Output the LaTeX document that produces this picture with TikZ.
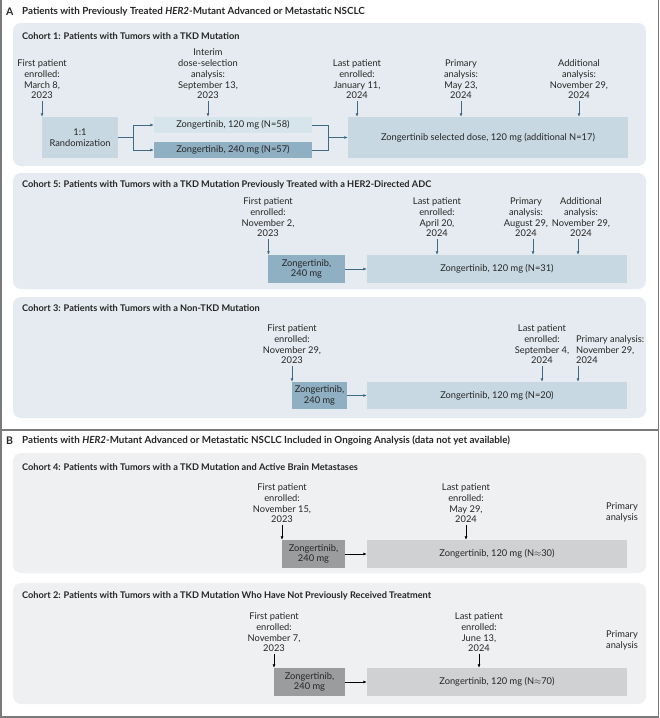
\documentclass[tikz,border=0pt]{standalone}
\usepackage{fontspec}
\setmainfont{Lato}
\usetikzlibrary{arrows.meta}
\definecolor{txt}{HTML}{262626}
\definecolor{frameg}{HTML}{7A7A7A}
\definecolor{cohA}{HTML}{E5EBF0}
\definecolor{boxmid}{HTML}{C8D8E2}
\definecolor{boxlight}{HTML}{D6E4EC}
\definecolor{boxdark}{HTML}{8FAFC2}
\definecolor{arrA}{HTML}{3F6A85}
\definecolor{cohB}{HTML}{EEF0F1}
\definecolor{boxBdark}{HTML}{9B9C9E}
\definecolor{boxBlight}{HTML}{D0D1D3}
\tikzset{
  every node/.style={text=txt},
  cohort/.style={rounded corners=8pt, draw=none},
  ttl/.style={anchor=west, inner sep=0pt, font=\fontsize{9.2}{11}\selectfont\bfseries},
  hdr/.style={anchor=west, inner sep=0pt, font=\fontsize{9.8}{11}\selectfont\bfseries},
  lbl/.style={align=center, inner sep=0pt, anchor=south, font=\fontsize{9.3}{10.7}\selectfont},
  bx/.style={inner sep=0pt, align=center, font=\fontsize{9.3}{10.7}\selectfont},
  arra/.style={-{Latex[length=3.5pt,width=3pt]}, line width=0.7pt, draw=arrA, shorten <=2pt},
  arrb/.style={-{Latex[length=3.5pt,width=3pt]}, line width=0.7pt, draw=black, shorten <=2pt},
  lina/.style={line width=0.7pt, draw=arrA},
}
\begin{document}
\begin{tikzpicture}[x=1pt,y=-1pt]
\useasboundingbox (0,0) rectangle (660,718);
% frame
\draw[frameg, line width=1.2pt] (1,0) -- (1,717) -- (658.5,717) -- (658.5,0);
\draw[frameg, line width=1.2pt] (1,430) -- (658.5,430);

% ===== Panel A =====
\node[anchor=west, inner sep=0pt, font=\fontsize{10.5}{12}\selectfont\bfseries] (hA) at (6,12) {A};
\node[hdr] (hAt) at (22,12) {Patients with Previously Treated \textit{HER2}-Mutant Advanced or Metastatic NSCLC};

% Cohort 1
\fill[cohA, cohort] (13,23) rectangle (646,166);
\node[ttl] (t1) at (22,36) {Cohort 1: Patients with Tumors with a TKD Mutation};
\node[bx, fill=boxmid, minimum width=76pt, minimum height=41pt] (rand) at (80,137.5) {1:1\\Randomization};
\node[bx, fill=boxlight, minimum width=158pt, minimum height=16pt] (z120) at (233,125) {Zongertinib, 120 mg (N=58)};
\node[bx, fill=boxdark, minimum width=158pt, minimum height=16pt] (z240) at (233,150) {Zongertinib, 240 mg (N=57)};
\node[bx, fill=boxmid, minimum width=280pt, minimum height=41pt] (sel) at (488,137.5) {Zongertinib selected dose, 120 mg (additional N=17)};
\coordinate (sp1) at (133,137.5);
\coordinate (mg1) at (328,137.5);
\draw[lina] (rand.east) -- (sp1);
\draw[arra, shorten <=0pt] (sp1) |- (z120.west);
\draw[arra, shorten <=0pt] (sp1) |- (z240.west);
\draw[lina] (z120.east) -| (mg1);
\draw[lina] (z240.east) -| (mg1);
\draw[arra, shorten <=0pt] (mg1) -- (sel.west);
\node[lbl] (fp1) at (42,99) {First patient\\enrolled:\\March 8,\\2023};
\node[lbl] (int1) at (208,99) {Interim\\dose-selection\\analysis:\\September 13,\\2023};
\node[lbl] (lp1) at (357,99) {Last patient\\enrolled:\\January 11,\\2024};
\node[lbl] (pa1) at (461,99) {Primary\\analysis:\\May 23,\\2024};
\node[lbl] (aa1) at (579,99) {Additional\\analysis:\\November 29,\\2024};
\draw[arra] (fp1.south) -- (fp1.south |- rand.north);
\draw[arra] (int1.south) -- (int1.south |- z120.north);
\draw[arra] (lp1.south) -- (lp1.south |- sel.north);
\draw[arra] (pa1.south) -- (pa1.south |- sel.north);
\draw[arra] (aa1.south) -- (aa1.south |- sel.north);

% Cohort 5
\fill[cohA, cohort] (13,173) rectangle (646,289);
\node[ttl] (t5) at (22,185) {Cohort 5: Patients with Tumors with a TKD Mutation Previously Treated with a HER2-Directed ADC};
\node[bx, fill=boxdark, minimum width=77pt, minimum height=28pt] (a240) at (306.5,269) {Zongertinib,\\240 mg};
\node[bx, fill=boxmid, minimum width=260pt, minimum height=28pt] (a120) at (497,269) {Zongertinib, 120 mg (N=31)};
\draw[arra, shorten <=0pt] (a240.east) -- (a120.west);
\node[lbl] (fp5) at (268,237) {First patient\\enrolled:\\November 2,\\2023};
\node[lbl] (lp5) at (437,237) {Last patient\\enrolled:\\April 20,\\2024};
\node[lbl] (pa5) at (526,237) {Primary\\analysis:\\August 29,\\2024};
\node[lbl] (aa5) at (581,237) {Additional\\analysis:\\November 29,\\2024};
\draw[arra] ([xshift=0.5pt]fp5.south) -- ([xshift=0.5pt]fp5.south |- a240.north);
\draw[arra] (lp5.south) -- (lp5.south |- a120.north);
\draw[arra] ([xshift=7pt]pa5.south) -- ([xshift=7pt]pa5.south |- a120.north);
\draw[arra] ([xshift=-3pt]aa5.south) -- ([xshift=-3pt]aa5.south |- a120.north);

% Cohort 3
\fill[cohA, cohort] (13,297) rectangle (646,418);
\node[ttl] (t3) at (22,308) {Cohort 3: Patients with Tumors with a Non-TKD Mutation};
\node[bx, fill=boxdark, minimum width=55pt, minimum height=27pt] (c240) at (319.5,395.5) {Zongertinib,\\240 mg};
\node[bx, fill=boxmid, minimum width=260pt, minimum height=27pt] (c120) at (497,395.5) {Zongertinib, 120 mg (N=20)};
\draw[arra, shorten <=0pt] (c240.east) -- (c120.west);
\node[lbl] (fp3) at (292,364) {First patient\\enrolled:\\November 29,\\2023};
\node[lbl] (lp3) at (542,364) {Last patient\\enrolled:\\September 4,\\2024};
\node[lbl, anchor=south west, align=left] (pa3) at (576,364) {Primary analysis:\\November 29,\\2024};
\draw[arra] (fp3.south) -- (fp3.south |- c240.north);
\draw[arra] (lp3.south) -- (lp3.south |- c120.north);
\draw[arra] ([xshift=2pt]pa3.south west) -- ([xshift=2pt]pa3.south west |- c120.north);

% ===== Panel B =====
\node[anchor=west, inner sep=0pt, font=\fontsize{10.5}{12}\selectfont\bfseries] (hB) at (6,441) {B};
\node[hdr] (hBt) at (22,441) {Patients with \textit{HER2}-Mutant Advanced or Metastatic NSCLC Included in Ongoing Analysis (data not yet available)};

% Cohort 4
\fill[cohB, cohort] (13,453) rectangle (646,573);
\node[ttl] (t4) at (22,467) {Cohort 4: Patients with Tumors with a TKD Mutation and Active Brain Metastases};
\node[bx, fill=boxBdark, minimum width=63pt, minimum height=28pt] (d240) at (313.5,554) {Zongertinib,\\240 mg};
\node[bx, fill=boxBlight, minimum width=260pt, minimum height=28pt] (d120) at (497,554) {Zongertinib, 120 mg (N$\approx$30)};
\draw[arrb, shorten <=0pt] (d240.east) -- (d120.west);
\node[lbl] (fp4) at (282,523) {First patient\\enrolled:\\November 15,\\2023};
\node[lbl] (lp4) at (466,523) {Last patient\\enrolled:\\May 29,\\2024};
\node[lbl, anchor=south east, align=right] (pa4) at (638,522) {Primary\\analysis};
\draw[arrb] (fp4.south) -- (fp4.south |- d240.north);
\draw[arrb] (lp4.south) -- (lp4.south |- d120.north);

% Cohort 2
\fill[cohB, cohort] (13,583) rectangle (646,704);
\node[ttl] (t2) at (22,596) {Cohort 2: Patients with Tumors with a TKD Mutation Who Have Not Previously Received Treatment};
\node[bx, fill=boxBdark, minimum width=71pt, minimum height=28pt] (e240) at (309.5,682) {Zongertinib,\\240 mg};
\node[bx, fill=boxBlight, minimum width=260pt, minimum height=28pt] (e120) at (497,682) {Zongertinib, 120 mg (N$\approx$70)};
\draw[arrb, shorten <=0pt] (e240.east) -- (e120.west);
\node[lbl] (fp2) at (274,652) {First patient\\enrolled:\\November 7,\\2023};
\node[lbl] (lp2) at (479,652) {Last patient\\enrolled:\\June 13,\\2024};
\node[lbl, anchor=south east, align=right] (pa2) at (638,650) {Primary\\analysis};
\draw[arrb] (fp2.south) -- (fp2.south |- e240.north);
\draw[arrb] (lp2.south) -- (lp2.south |- e120.north);
\end{tikzpicture}
\end{document}
